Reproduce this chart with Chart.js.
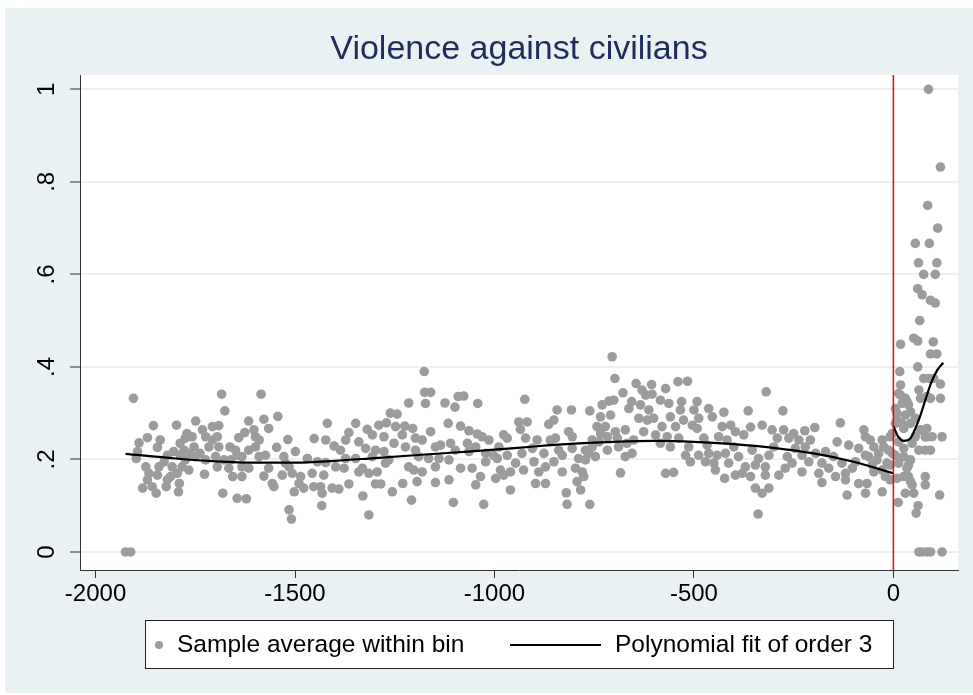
<!DOCTYPE html>
<html>
<head>
<meta charset="utf-8">
<script src="https://cdn.jsdelivr.net/npm/chart.js"></script>
<style>
  html, body { margin: 0; padding: 0; background: #fff; }
  canvas { display: block; }
</style>
</head>
<body>
<canvas id="rdChart" width="973" height="695"></canvas>
<script>
// title + legend text
var chartTitle = 'Violence against civilians';
var legendLabels = ['Sample average within bin', 'Polynomial fit of order 3'];

// axis ticks
var xTicks = [-2000, -1500, -1000, -500, 0];
var yTicks = [0, 0.2, 0.4, 0.6, 0.8, 1];
var yTickLabels = ['0', '.2', '.4', '.6', '.8', '1'];
var cutoff = 0;

// bin averages left of the cutoff [x, y]
var binsLeft = [
  [-1925,0],[-1912,0],[-1905,0.332],[-1855,0.273],[-1797,0.274],[-1749,0.283],[-1891,0.236],[-1870,0.247],
  [-1838,0.242],[-1845,0.226],[-1895,0.217],[-1898,0.202],[-1874,0.184],[-1866,0.170],[-1845,0.166],[-1882,0.138],
  [-1858,0.141],[-1848,0.127],[-1823,0.141],[-1792,0.130],[-1790,0.148],[-1820,0.209],[-1804,0.217],[-1808,0.184],
  [-1812,0.163],[-1788,0.235],[-1775,0.246],[-1771,0.256],[-1758,0.249],[-1783,0.184],[-1775,0.199],[-1763,0.213],
  [-1766,0.177],[-1795,0.170],[-1732,0.264],[-1724,0.249],[-1707,0.271],[-1738,0.213],[-1750,0.206],[-1727,0.168],
  [-1716,0.227],[-1699,0.206],[-1691,0.227],[-1828,0.195],[-1841,0.184],[-1753,0.227],[-1778,0.220],[-1820,0.156],
  [-1870,0.156],[-1707,0.242],[-1695,0.249],[-1788,0.209],[-1724,0.199],
  [-1684,0.341],[-1585,0.341],[-1676,0.305],[-1691,0.273],[-1616,0.283],[-1578,0.287],[-1543,0.293],[-1566,0.267],
  [-1626,0.258],[-1641,0.247],[-1599,0.249],[-1590,0.242],[-1518,0.243],[-1452,0.245],[-1419,0.278],[-1663,0.227],
  [-1616,0.220],[-1599,0.227],[-1546,0.226],[-1499,0.217],[-1645,0.209],[-1633,0.206],[-1574,0.209],[-1528,0.206],
  [-1678,0.199],[-1661,0.199],[-1695,0.184],[-1666,0.181],[-1633,0.184],[-1616,0.181],[-1566,0.181],[-1515,0.184],
  [-1469,0.202],[-1444,0.195],[-1423,0.193],[-1656,0.163],[-1633,0.163],[-1578,0.164],[-1532,0.166],[-1507,0.170],
  [-1486,0.163],[-1457,0.170],[-1428,0.166],[-1557,0.148],[-1553,0.141],[-1490,0.148],[-1478,0.138],[-1453,0.141],
  [-1436,0.141],[-1432,0.127],[-1502,0.130],[-1681,0.127],[-1645,0.116],[-1622,0.115],[-1433,0.100],[-1515,0.091],
  [-1509,0.071],[-1524,0.192],[-1590,0.206],[-1649,0.220],[-1603,0.264],[-1423,0.242],
  [-1176,0.390],[-1175,0.345],[-1160,0.345],[-1173,0.321],[-1215,0.322],[-1261,0.300],[-1244,0.298],[-1348,0.278],
  [-1319,0.265],[-1290,0.274],[-1271,0.279],[-1248,0.271],[-1225,0.272],[-1205,0.267],[-1160,0.260],[-1365,0.258],
  [-1306,0.253],[-1277,0.249],[-1231,0.253],[-1198,0.246],[-1373,0.242],[-1340,0.238],[-1402,0.229],[-1252,0.235],
  [-1223,0.227],[-1181,0.242],[-1148,0.227],[-1386,0.220],[-1323,0.224],[-1298,0.220],[-1277,0.217],[-1198,0.220],
  [-1373,0.202],[-1348,0.202],[-1306,0.206],[-1265,0.199],[-1190,0.206],[-1165,0.202],[-1398,0.184],[-1377,0.181],
  [-1331,0.181],[-1273,0.192],[-1215,0.184],[-1202,0.177],[-1148,0.184],[-1340,0.173],[-1315,0.170],[-1294,0.173],
  [-1181,0.173],[-1407,0.138],[-1390,0.136],[-1365,0.147],[-1298,0.147],[-1285,0.147],[-1230,0.148],[-1194,0.152],
  [-1148,0.150],[-1256,0.130],[-1330,0.121],[-1208,0.112],[-1315,0.080],
  [-1091,0.336],[-1077,0.337],[-1124,0.322],[-1099,0.313],[-1042,0.321],[-924,0.330],[-1116,0.278],[-1085,0.272],
  [-1064,0.262],[-1043,0.255],[-1031,0.249],[-977,0.253],[-939,0.281],[-918,0.281],[-864,0.276],[-935,0.265],
  [-1014,0.242],[-989,0.227],[-968,0.246],[-922,0.246],[-893,0.242],[-1135,0.231],[-1110,0.235],[-1068,0.235],
  [-1047,0.227],[-1098,0.220],[-1064,0.217],[-1022,0.213],[-1002,0.209],[-968,0.209],[-931,0.213],[-905,0.224],
  [-876,0.213],[-1139,0.202],[-1114,0.199],[-1022,0.195],[-993,0.202],[-947,0.192],[-901,0.195],[-872,0.184],
  [-1085,0.181],[-1056,0.181],[-985,0.177],[-960,0.173],[-927,0.177],[-889,0.173],[-1035,0.163],[-997,0.159],
  [-977,0.166],[-1114,0.156],[-1047,0.145],[-897,0.148],[-872,0.148],[-960,0.134],[-1103,0.107],[-1027,0.103],
  [-705,0.422],[-698,0.375],[-645,0.364],[-606,0.362],[-678,0.344],[-630,0.350],[-621,0.339],[-605,0.341],
  [-713,0.326],[-701,0.328],[-730,0.318],[-656,0.325],[-663,0.310],[-634,0.318],[-613,0.307],[-843,0.307],
  [-807,0.307],[-761,0.305],[-734,0.292],[-709,0.296],[-851,0.285],[-638,0.289],[-617,0.285],[-601,0.289],
  [-743,0.271],[-722,0.271],[-697,0.260],[-672,0.264],[-626,0.260],[-596,0.253],[-814,0.260],[-805,0.249],
  [-847,0.246],[-860,0.242],[-734,0.256],[-717,0.249],[-692,0.246],[-755,0.242],[-738,0.238],[-651,0.242],
  [-689,0.227],[-668,0.235],[-839,0.220],[-805,0.224],[-772,0.220],[-755,0.227],[-717,0.220],[-830,0.209],
  [-764,0.213],[-747,0.206],[-672,0.206],[-655,0.213],[-851,0.195],[-789,0.202],[-772,0.199],[-830,0.173],
  [-797,0.181],[-780,0.173],[-776,0.163],[-684,0.171],[-793,0.152],[-784,0.134],[-820,0.128],[-818,0.103],
  [-761,0.103],
  [-540,0.368],[-516,0.369],[-319,0.346],[-571,0.353],[-584,0.328],[-563,0.321],[-531,0.325],[-492,0.325],
  [-534,0.307],[-500,0.307],[-463,0.310],[-425,0.302],[-364,0.305],[-559,0.292],[-526,0.285],[-488,0.289],
  [-454,0.292],[-408,0.274],[-429,0.271],[-358,0.270],[-329,0.274],[-580,0.271],[-546,0.271],[-504,0.274],
  [-492,0.267],[-396,0.260],[-375,0.253],[-567,0.249],[-538,0.246],[-475,0.246],[-438,0.249],[-417,0.242],
  [-559,0.227],[-513,0.227],[-467,0.231],[-400,0.227],[-354,0.220],[-584,0.235],[-521,0.209],[-488,0.209],
  [-463,0.213],[-442,0.209],[-421,0.213],[-388,0.206],[-338,0.202],[-312,0.209],[-509,0.195],[-471,0.195],
  [-450,0.192],[-413,0.192],[-371,0.184],[-346,0.188],[-321,0.184],[-446,0.177],[-396,0.166],[-379,0.170],
  [-358,0.163],[-321,0.166],[-571,0.170],[-551,0.172],[-423,0.159],[-346,0.138],[-329,0.127],[-312,0.138],
  [-339,0.082],
  [-277,0.305],[-133,0.279],[-197,0.269],[-304,0.264],[-275,0.264],[-250,0.256],[-222,0.262],[-74,0.264],
  [-291,0.246],[-262,0.246],[-237,0.242],[-208,0.242],[-141,0.238],[-70,0.249],[-28,0.242],[-300,0.227],
  [-246,0.224],[-221,0.227],[-112,0.231],[-87,0.224],[-49,0.227],[-266,0.206],[-229,0.209],[-195,0.213],
  [-170,0.217],[-150,0.206],[-70,0.209],[-37,0.213],[-254,0.192],[-212,0.195],[-179,0.192],[-129,0.192],
  [-95,0.195],[-53,0.188],[-16,0.192],[-287,0.166],[-229,0.173],[-187,0.170],[-145,0.163],[-120,0.170],
  [-49,0.173],[-20,0.163],[-179,0.150],[-120,0.156],[-87,0.148],[-116,0.123],[-70,0.127],[-28,0.130],
  [-271,0.181],[-162,0.181],[-103,0.181],
  [-8,0.249],[-3,0.256],[-12,0.220],[-3,0.213],[-8,0.188],[-8,0.156],[-58,0.242],[-41,0.199],
  [-66,0.148],[-28,0.177],[-62,0.206],[-24,0.227]
];

// bin averages right of the cutoff [x, y]
var binsRight = [
  [88,1.0],[118,0.832],[86,0.749],[111,0.700],[55,0.667],[90,0.667],[63,0.625],[109,0.625],
  [76,0.600],[105,0.600],[61,0.569],[72,0.556],[93,0.544],[105,0.538],[66,0.500],[51,0.462],
  [61,0.456],[18,0.449],[100,0.454],[93,0.428],[109,0.428],[61,0.400],[16,0.390],[76,0.375],
  [89,0.375],[101,0.375],[18,0.361],[118,0.363],[64,0.350],[13,0.343],[18,0.339],[84,0.336],
  [30,0.332],[68,0.332],[93,0.332],[118,0.332],[34,0.325],[22,0.321],[38,0.318],[5,0.310],
  [43,0.303],[9,0.300],[30,0.296],[55,0.289],[9,0.285],[5,0.278],[22,0.278],[43,0.278],
  [26,0.267],[84,0.267],[68,0.264],[55,0.249],[80,0.249],[84,0.249],[97,0.249],[122,0.249],
  [13,0.238],[47,0.235],[26,0.224],[64,0.220],[80,0.220],[93,0.220],[5,0.209],[26,0.206],
  [43,0.199],[13,0.192],[38,0.188],[34,0.181],[26,0.163],[38,0.163],[80,0.163],[9,0.159],
  [43,0.152],[47,0.145],[80,0.145],[30,0.127],[51,0.127],[116,0.123],[12,0.107],[62,0.100],
  [57,0.084],[64,0],[72,0],[84,0],[93,0],[122,0]
];

// fitted curve
var fitLeftX = [-1925, -1800, -1700, -1600, -1500, -1400, -1300, -1200, -1100, -1000, -900, -800, -700, -600, -500, -400, -300, -200, -100, 0];
var fitLeftY = [0.212, 0.202, 0.196, 0.193, 0.193, 0.197, 0.203, 0.209, 0.215, 0.221, 0.228, 0.234, 0.238, 0.240, 0.238, 0.233, 0.225, 0.213, 0.195, 0.170];
var fitRightX = [0, 13, 26, 43, 55, 68, 80, 94, 110, 125];
var fitRightY = [0.272, 0.248, 0.240, 0.246, 0.267, 0.296, 0.328, 0.364, 0.393, 0.409];

var FONT = '"Liberation Sans", Arial, sans-serif';
var binColor = '#9c9c9c';

function toPoints(pairs) {
    return pairs.map(function (p) { return { x: p[0], y: p[1] }; });
}
function zipPoints(xs, ys) {
    return xs.map(function (x, i) { return { x: x, y: ys[i] }; });
}

var backdrop = {
    id: 'backdrop',
    beforeDraw: function (chart) {
        var ctx = chart.ctx, a = chart.chartArea;
        ctx.save();
        ctx.fillStyle = '#ffffff';
        ctx.fillRect(0, 0, chart.width, chart.height);
        ctx.fillStyle = '#eaf1f3';
        ctx.fillRect(5, 8, chart.width - 5, chart.height - 10);
        ctx.fillStyle = '#ffffff';
        ctx.fillRect(a.left, a.top, a.right - a.left, a.bottom - a.top);
        ctx.fillStyle = '#1e2d5c';
        ctx.font = '34px ' + FONT;
        ctx.textAlign = 'center';
        ctx.textBaseline = 'middle';
        ctx.fillText(chartTitle, (a.left + a.right) / 2, 50);
        ctx.restore();
    }
};

var cutoffLine = {
    id: 'cutoffLine',
    afterDatasetsDraw: function (chart) {
        var ctx = chart.ctx, a = chart.chartArea;
        var x = chart.scales.x.getPixelForValue(cutoff);
        ctx.save();
        ctx.strokeStyle = '#ff0000';
        ctx.lineWidth = 1.5;
        ctx.beginPath();
        ctx.moveTo(x, a.top);
        ctx.lineTo(x, a.bottom);
        ctx.stroke();
        ctx.restore();
    }
};

var boxLegend = {
    id: 'boxLegend',
    afterDraw: function (chart) {
        var ctx = chart.ctx;
        ctx.save();
        ctx.fillStyle = '#ffffff';
        ctx.fillRect(145, 620, 748, 48);
        ctx.strokeStyle = '#222';
        ctx.lineWidth = 1;
        ctx.strokeRect(145.5, 620.5, 748, 48);
        ctx.fillStyle = binColor;
        ctx.beginPath();
        ctx.arc(159, 645, 4, 0, Math.PI * 2);
        ctx.fill();
        ctx.strokeStyle = '#000';
        ctx.lineWidth = 2;
        ctx.beginPath();
        ctx.moveTo(510, 645);
        ctx.lineTo(601, 645);
        ctx.stroke();
        ctx.fillStyle = '#000';
        ctx.font = '24.5px ' + FONT;
        ctx.textAlign = 'left';
        ctx.textBaseline = 'middle';
        ctx.fillText(legendLabels[0], 177, 645);
        ctx.fillText(legendLabels[1], 615, 645);
        ctx.restore();
    }
};

var ctx = document.getElementById('rdChart').getContext('2d');
new Chart(ctx, {
    type: 'scatter',
    data: {
        datasets: [{
            label: legendLabels[0],
            data: toPoints(binsLeft.concat(binsRight)),
            backgroundColor: binColor,
            borderWidth: 0,
            pointRadius: 4.8,
            order: 3
        }, {
            label: legendLabels[1],
            data: zipPoints(fitLeftX, fitLeftY),
            showLine: true,
            borderColor: '#000',
            borderWidth: 2.2,
            pointRadius: 0,
            cubicInterpolationMode: 'monotone',
            order: 1
        }, {
            label: legendLabels[1] + ' (right)',
            data: zipPoints(fitRightX, fitRightY),
            showLine: true,
            borderColor: '#000',
            borderWidth: 2.2,
            pointRadius: 0,
            cubicInterpolationMode: 'monotone',
            order: 1
        }]
    },
    options: {
        responsive: false,
        animation: false,
        devicePixelRatio: 1,
        events: [],
        layout: { padding: { left: 0, top: 75, right: 15, bottom: 0 } },
        plugins: {
            legend: { display: false },
            title: { display: false },
            tooltip: { enabled: false }
        },
        scales: {
            x: {
                type: 'linear',
                min: -2039,
                max: 162,
                afterBuildTicks: function (scale) {
                    scale.ticks = xTicks.map(function (v) { return { value: v }; });
                },
                afterFit: function (scale) { scale.height = 125; },
                grid: { drawOnChartArea: false, tickLength: 8, tickColor: '#333', tickWidth: 1 },
                border: { display: true, color: '#333', width: 1 },
                ticks: {
                    color: '#000',
                    font: { size: 24, family: FONT },
                    padding: 2,
                    maxRotation: 0,
                    callback: function (v) { return String(v); }
                }
            },
            y: {
                type: 'linear',
                min: -0.039,
                max: 1.031,
                afterBuildTicks: function (scale) {
                    scale.ticks = yTicks.map(function (v) { return { value: v }; });
                },
                afterFit: function (scale) { scale.width = 80; },
                grid: { color: '#eaf1f3', lineWidth: 2, tickLength: 10, tickColor: '#333', tickWidth: 1 },
                border: { display: true, color: '#333', width: 1 },
                ticks: {
                    color: '#000',
                    font: { size: 24, family: FONT },
                    padding: 13,
                    minRotation: 90,
                    maxRotation: 90,
                    crossAlign: 'center',
                    callback: function (v, i) { return yTickLabels[i]; }
                }
            }
        }
    },
    plugins: [backdrop, cutoffLine, boxLegend]
});
</script>
</body>
</html>
